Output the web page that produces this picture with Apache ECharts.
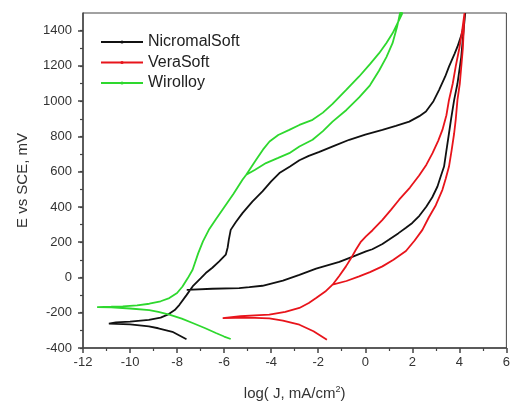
<!DOCTYPE html>
<html>
<head>
<meta charset="utf-8">
<script src="https://cdn.jsdelivr.net/npm/echarts@6/dist/echarts.min.js"></script>
<style>html,body{margin:0;padding:0;background:#fff}#c{width:513px;height:406px}</style>
</head>
<body>
<div id="c"></div>
<script>
// ---- data: [log J, E (mV)] in scan order ----
var seriesNames = ['NicromalSoft', 'VeraSoft', 'Wirolloy'];

var nicromalSoft = [
  [-7.6,-350],[-8.2,-308],[-8.8,-288],[-9.2,-277],[-10.0,-266],[-10.9,-262],
  [-10.6,-255],[-10.0,-250],[-9.2,-240],[-8.7,-228],[-8.4,-211],[-8.1,-185],[-7.9,-155],
  [-7.6,-100],[-7.34,-51],[-7.0,-5],[-6.78,25],[-6.5,55],[-6.21,91],[-5.93,129],
  [-5.85,170],[-5.8,215],[-5.72,270],[-5.5,315],[-5.22,365],[-4.8,430],[-4.37,488],
  [-4.0,545],[-3.65,592],[-3.2,630],[-2.8,665],[-2.4,690],[-1.95,712],[-1.3,748],
  [-0.68,781],[0.0,810],[0.73,837],[1.3,860],[1.87,884],[2.3,915],[2.58,941],
  [2.9,1000],[3.14,1064],[3.4,1140],[3.56,1196],[3.8,1270],[3.92,1309],[4.1,1380],
  [4.2,1440],[4.25,1500],
  [4.18,1400],[4.08,1250],[3.92,1100],[3.78,1007],[3.65,900],[3.56,818],[3.45,720],
  [3.35,629],[3.2,570],[3.07,516],[2.85,455],[2.6,403],[2.3,350],[2.0,309],[1.73,282],
  [1.4,250],[1.0,214],[0.73,190],[0.3,160],[0.03,148],[-0.5,120],[-1.1,88],[-2.09,50],
  [-2.8,15],[-3.5,-18],[-4.37,-47],[-4.93,-55],[-5.36,-60],[-6.5,-64],[-7.59,-70]
];

var veraSoft = [
  [-1.63,-353],[-2.2,-305],[-2.8,-268],[-3.5,-245],[-4.08,-232],[-5.0,-228],[-6.06,-230],
  [-5.3,-220],[-4.5,-214],[-4.08,-211],[-3.4,-195],[-2.8,-173],[-2.4,-145],[-2.09,-117],
  [-1.7,-80],[-1.39,-41],[-1.1,10],[-0.82,63],[-0.6,110],[-0.4,157],[-0.2,200],[0.03,233],
  [0.31,268],[0.73,327],[1.1,385],[1.44,441],[1.9,510],[2.29,578],[2.6,640],[2.86,705],
  [3.1,775],[3.28,837],[3.45,920],[3.56,1007],[3.72,1100],[3.85,1200],[4.0,1300],
  [4.12,1400],[4.22,1500],
  [4.27,1500],[4.15,1300],[4.02,1100],[3.92,1007],[3.85,900],[3.78,818],[3.67,720],
  [3.56,629],[3.42,560],[3.28,497],[3.0,410],[2.7,340],[2.43,270],[2.1,210],[1.73,150],
  [1.2,100],[0.73,63],[0.2,30],[-0.26,6],[-0.8,-20],[-1.39,-41]
];

var wirolloy = [
  [-5.72,-349],[-6.0,-335],[-6.35,-315],[-6.8,-288],[-7.34,-258],[-7.8,-233],[-8.33,-211],
  [-8.8,-195],[-9.18,-185],[-10.0,-176],[-10.8,-170],[-11.4,-168],
  [-10.8,-166],[-10.31,-164],[-9.7,-158],[-9.18,-149],[-8.7,-135],[-8.33,-117],[-8.0,-88],
  [-7.77,-51],[-7.55,-5],[-7.34,44],[-7.1,138],[-6.9,205],[-6.65,270],[-6.35,330],
  [-6.07,384],[-5.6,475],[-5.22,554],[-5.06,583],[-4.85,625],[-4.64,667],[-4.35,725],
  [-4.07,771],[-3.7,808],[-3.23,837],[-2.8,865],[-2.24,894],[-1.8,935],[-1.39,985],
  [-0.8,1065],[-0.26,1140],[0.2,1210],[0.59,1272],[0.9,1330],[1.16,1385],[1.4,1450],
  [1.58,1500],
  [1.48,1500],[1.35,1420],[1.16,1329],[0.9,1250],[0.59,1174],[0.2,1090],[-0.26,1021],
  [-0.8,950],[-1.39,884],[-1.8,830],[-2.24,781],[-2.8,743],[-3.23,705],[-3.7,678],
  [-4.22,649],[-4.7,610],[-5.06,583]
];

var xTicks = {min: -12, max: 6, interval: 2};
var yMajorTicks = [-400,-200,0,200,400,600,800,1000,1200,1400];
var yRange = {min: -400, max: 1500};
var colors = ['#111111', '#e8141b', '#2ed82e'];

var chart = echarts.init(document.getElementById('c'), null, {renderer: 'canvas'});
var font = 'Arial, "Liberation Sans", sans-serif';
var axisColor = '#444';
var textColor = '#333';

function mkSeries(name, data, color) {
  return {
    name: name, type: 'line', data: data, xAxisIndex: 0, yAxisIndex: 0,
    symbol: 'circle', symbolSize: 3, showSymbol: false, smooth: false,
    lineStyle: {color: color, width: 1.8}, itemStyle: {color: color},
    animation: false
  };
}

chart.setOption({
  backgroundColor: '#fff',
  animation: false,
  grid: {left: 83, right: 5, top: 13, bottom: 58, show: true, borderColor: axisColor, borderWidth: 1, backgroundColor: 'transparent'},
  legend: {
    data: seriesNames, orient: 'vertical', left: 95, top: 29,
    itemWidth: 42, itemHeight: 4, itemGap: 4.5,
    textStyle: {fontFamily: font, fontSize: 16, color: '#222', lineHeight: 16}
  },
  xAxis: [{
    type: 'value', min: xTicks.min, max: xTicks.max, interval: xTicks.interval,
    name: 'log( J, mA/cm{sup|2})', nameLocation: 'middle', nameGap: 37,
    nameTextStyle: {fontFamily: font, fontSize: 15, color: textColor,
      rich: {sup: {fontFamily: font, fontSize: 9, color: textColor, verticalAlign: 'top', padding: [0,0,8,0]}}},
    axisLine: {show: true, onZero: false, lineStyle: {color: axisColor, width: 1.5}},
    axisTick: {show: true, inside: false, length: 5, lineStyle: {color: axisColor, width: 1.5}},
    minorTick: {show: true, splitNumber: 2, length: 3, lineStyle: {color: axisColor, width: 1.2}},
    axisLabel: {fontFamily: font, fontSize: 13, color: textColor, margin: 8},
    splitLine: {show: false}
  }],
  yAxis: [{
    type: 'value', min: yRange.min, max: yRange.max, interval: 100,
    name: 'E vs SCE, mV', nameLocation: 'middle', nameGap: 53,
    nameTextStyle: {fontFamily: font, fontSize: 15, color: textColor},
    axisLine: {show: true, onZero: false, lineStyle: {color: axisColor, width: 1.5}},
    axisTick: {show: true, inside: false, length: 3, lineStyle: {color: axisColor, width: 1.2}},
    axisLabel: {fontFamily: font, fontSize: 13, color: textColor, margin: 11, showMaxLabel: false,
      formatter: function (v) { return yMajorTicks.indexOf(v) >= 0 ? String(v) : ''; }},
    splitLine: {show: false}
  }, {
    type: 'value', min: yRange.min, max: yRange.max, position: 'left',
    axisLine: {show: false, onZero: false},
    axisTick: {show: true, inside: false, length: 5, customValues: yMajorTicks, lineStyle: {color: axisColor, width: 1.5}},
    axisLabel: {show: false},
    splitLine: {show: false}
  }],
  series: [
    mkSeries(seriesNames[0], nicromalSoft, colors[0]),
    mkSeries(seriesNames[1], veraSoft, colors[1]),
    mkSeries(seriesNames[2], wirolloy, colors[2])
  ]
});
</script>
</body>
</html>
